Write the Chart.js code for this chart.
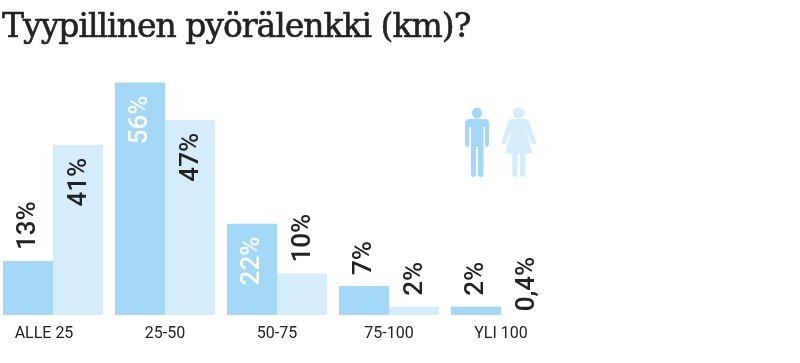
<!DOCTYPE html>
<html>
<head>
<meta charset="utf-8">
<script src="https://cdn.jsdelivr.net/npm/chart.js@4/dist/chart.umd.min.js"></script>
<style>
    html, body { margin: 0; padding: 0; background: #fff; overflow: hidden; }
    #wrap { position: relative; width: 800px; height: 363px; overflow: hidden; }
    #rideChart { position: absolute; left: -3px; top: 0; }
    #icons { position: absolute; left: 0; top: 0; }
</style>
</head>
<body>
<div id="wrap">
    <canvas id="rideChart" width="803" height="363"></canvas>
    <!-- man / woman key -->
    <svg id="icons" width="800" height="363">
        <g fill="#a3d9f7">
            <ellipse cx="477" cy="113" rx="5" ry="5.500"/>
            <path d="M469 119H485Q489 119 489 124V144Q489 147 487 147T485 144V127H483.500V173Q483.500 177 480.700 177T478 173V147H476V173Q476 177 473.500 177T471 173V127H469.300V144Q469.300 147 467.200 147T465 144V124Q465 119 469 119Z"/>
        </g>
        <g fill="#d4ecfb">
            <ellipse cx="518.700" cy="113" rx="6" ry="5.500"/>
            <path d="M512 119H525Q528 119 529 122L536 141Q537 144 534.500 144.500T531 142L525.500 127L532.500 153.500H525.300V173Q525.300 177 522.700 177T520 173V153.500H517.300V173Q517.300 177 514.800 177T512.300 173V153.500H505L512 127L506.500 142Q505 145 503 144.500T502 141L508 122Q509 119 512 119Z"/>
        </g>
    </svg>
</div>

<script>
// --- Chart data ---
const categories = ['ALLE 25', '25-50', '50-75', '75-100', 'YLI 100'];
const menValues = [13, 56, 22, 7, 2];
const womenValues = [41, 47, 10, 2, 0.4];
const titleText = 'Tyypillinen pyörälenkki (km)?';

const MEN_COLOR = '#a3d9f7';
const WOMEN_COLOR = '#d4ecfb';
const TEXT_COLOR = '#222222';

// Title is drawn here so it can sit a few pixels in from the bars
const titlePlugin = {
    id: 'slabTitle',
    afterDraw(chart) {
        const ctx = chart.ctx;
        ctx.save();
        ctx.font = '33px "DejaVu Serif", serif';
        ctx.letterSpacing = '-1px';
        ctx.fillStyle = TEXT_COLOR;
        ctx.strokeStyle = TEXT_COLOR;
        ctx.lineWidth = 0.6;
        ctx.textBaseline = 'alphabetic';
        ctx.fillText(titleText, 5, 37);
        ctx.strokeText(titleText, 5, 37); // the original face is heavier
        ctx.restore();
    }
};

// Rotated value labels: inside the tall bars, above the short ones
const valueLabelPlugin = {
    id: 'valueLabels',
    afterDatasetsDraw(chart) {
        const ctx = chart.ctx;
        chart.data.datasets.forEach((dataset, datasetIndex) => {
            chart.getDatasetMeta(datasetIndex).data.forEach((bar, i) => {
                const value = dataset.data[i];
                const inside = value >= 20;
                const outsideGap = value < 1 ? 2 : 11; // no visible bar under 1%
                const label = String(value).replace('.', ',') + '%';
                ctx.save();
                ctx.translate(bar.x + 1, inside ? bar.y + 13 : bar.y - outsideGap);
                ctx.rotate(-Math.PI / 2);
                ctx.font = '500 26px Roboto, sans-serif';
                ctx.textAlign = inside ? 'right' : 'left';
                ctx.textBaseline = 'middle';
                ctx.fillStyle = inside && datasetIndex === 0 ? '#ffffff' : TEXT_COLOR;
                ctx.fillText(label, 0, 0);
                ctx.restore();
            });
        });
    }
};

// First category label sits left of its group in the original
const labelShiftPlugin = {
    id: 'labelShift',
    afterLayout(chart) {
        const first = chart.scales.x.getLabelItems()[0];
        if (first) first.options.translation[0] -= 9;
    }
};

// The original leaves out a bar for anything under one percent
const barColor = color => context => (context.raw < 1 ? 'transparent' : color);

new Chart(document.getElementById('rideChart'), {
    type: 'bar',
    data: {
        labels: categories,
        datasets: [
            { label: 'Miehet', data: menValues, backgroundColor: barColor(MEN_COLOR) },
            { label: 'Naiset', data: womenValues, backgroundColor: barColor(WOMEN_COLOR) }
        ]
    },
    options: {
        responsive: false,
        animation: false,
        layout: { padding: { left: 0, right: 243, top: 66, bottom: 0 } },
        datasets: { bar: { categoryPercentage: 0.893, barPercentage: 1 } },
        plugins: {
            legend: { display: false },
            title: { display: false },
            tooltip: { enabled: false }
        },
        scales: {
            x: {
                afterFit: scale => { scale.height = 48; },
                grid: { display: false, drawTicks: false },
                border: { display: false },
                ticks: {
                    color: TEXT_COLOR,
                    padding: 9,
                    maxRotation: 0,
                    font: { family: 'Roboto', size: 16 }
                }
            },
            y: { display: false, min: 0, max: 60 }
        }
    },
    plugins: [titlePlugin, valueLabelPlugin, labelShiftPlugin]
});
</script>
</body>
</html>
